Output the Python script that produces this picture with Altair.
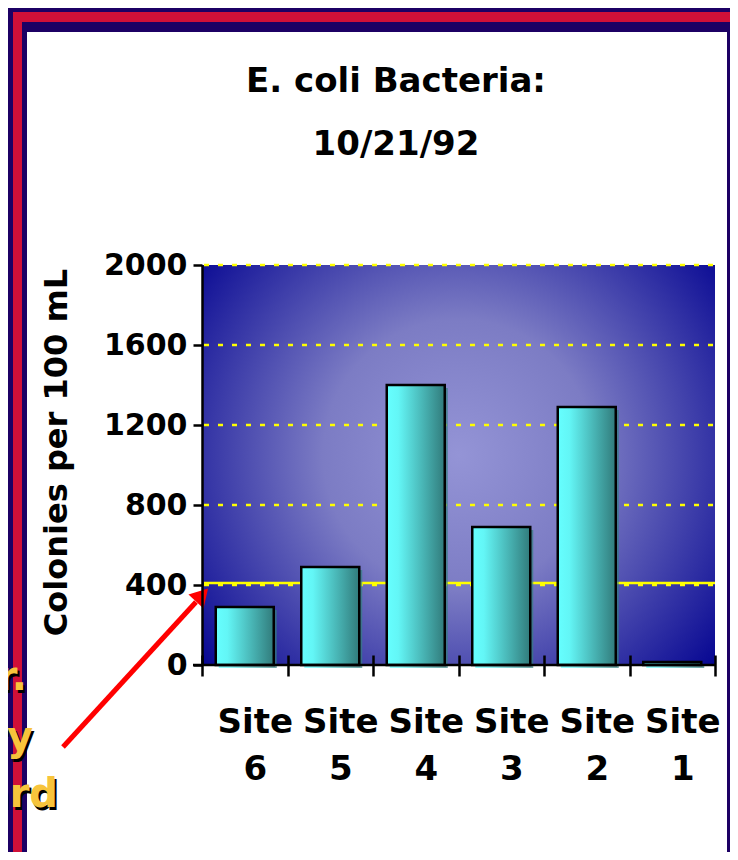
import altair as alt
import pandas as pd

# ---------------- data ----------------
sites = ["Site 6", "Site 5", "Site 4", "Site 3", "Site 2", "Site 1"]
colonies = [290, 490, 1400, 690, 1290, 15]
y_ticks = [0, 400, 800, 1200, 1600, 2000]
grid_values = [400, 800, 1200, 1600, 2000]
standard = [410]
title_lines = ["E. coli Bacteria:", "10/21/92"]
y_title = "Colonies per 100 mL"
note_lines = ["Contact Recr.", "Primary", "Standard"]

FONT = "DejaVu Sans"
W, H = 513, 400
NAVY = "#1c0064"
RED = "#d01038"

bars_df = pd.DataFrame({"site": sites, "value": colonies})
grid_df = pd.DataFrame({"value": grid_values})
std_df = pd.DataFrame({"value": standard})
one = pd.DataFrame({"k": [0]})

bar_fill = {
    "gradient": "linear", "x1": 0, "y1": 0, "x2": 1, "y2": 0,
    "stops": [
        {"offset": 0, "color": "#66ffff"},
        {"offset": 0.2, "color": "#63f6f6"},
        {"offset": 1, "color": "#317b7b"},
    ],
}
bg_fill = {
    "gradient": "radial", "x1": 0.5, "y1": 0.48, "r1": 0,
    "x2": 0.5, "y2": 0.48, "r2": 0.66,
    "stops": [
        {"offset": 0, "color": "#9494d6"},
        {"offset": 0.4, "color": "#7c7cc4"},
        {"offset": 1, "color": "#020290"},
    ],
}

y_enc = alt.Y(
    "value:Q",
    scale=alt.Scale(domain=[0, 2000], nice=False, zero=True),
    axis=alt.Axis(
        values=y_ticks, format="d", grid=False,
        domain=True, domainColor="black", domainWidth=2.5,
        ticks=True, tickColor="black", tickWidth=2.5, tickSize=9,
        labelFont=FONT, labelFontSize=30, labelFontWeight="bold",
        labelColor="black", labelPadding=6, labelFlush=False, labelOverlap=False,
        title=y_title, titleFont=FONT, titleFontSize=32, titleFontWeight="bold",
        titleColor="black", titleAngle=270, titleX=-136, titleY=187,
        titleAlign="center", titleBaseline="alphabetic", zindex=2,
    ),
)

x_enc = alt.X(
    "site:N", sort=sites,
    scale=alt.Scale(paddingInner=0, paddingOuter=0),
    axis=alt.Axis(
        title=None, domain=False, ticks=True, tickBand="extent",
        tickSize=21, tickWidth=2.5, tickColor="black", offset=-10,
        labelExpr="split(datum.label, ' ')", labelAngle=0,
        labelFont=FONT, labelFontSize=34, labelFontWeight="bold",
        labelColor="black", labelPadding=29, labelLineHeight=47,
        labelOffset=10, labelBaseline="top", zindex=2,
    ),
)


def box(x1, x2, y1, y2, fill):
    return alt.Chart(one).mark_rect(fill=fill, strokeWidth=0).encode(
        x=alt.value(x1), x2=alt.value(x2), y=alt.value(y1), y2=alt.value(y2)
    )


# slide frame
red_frame = box(-189, 560, -253, 620, RED)
navy_frame = box(-180, 560, -243, 620, NAVY)
white_panel = box(-175, 525, -233, 620, "white")
plot_bg = box(0, W, 0, H, bg_fill)

grid = alt.Chart(grid_df).mark_rule(
    color="#ffff00", strokeWidth=2.5, strokeDash=[5, 9]
).encode(y=y_enc, x=alt.value(2), x2=alt.value(W))

std_line = alt.Chart(std_df).mark_rule(color="#ffff00", strokeWidth=2.5).encode(
    y=y_enc, x=alt.value(2), x2=alt.value(W)
)

BAR_W = 58
shadow = alt.Chart(bars_df).mark_bar(
    fill=bar_fill, opacity=0.7, strokeWidth=0, xOffset=3, yOffset=3, width=BAR_W
).encode(x=x_enc, y=y_enc)

bars = alt.Chart(bars_df).mark_bar(
    fill=bar_fill, stroke="black", strokeWidth=2.5, width=BAR_W
).encode(x=x_enc, y=y_enc)

x_line = alt.Chart(one).mark_rule(color="black", strokeWidth=2.5).encode(
    x=alt.value(-9), x2=alt.value(W + 1), y=alt.value(H)
)

# annotation on the left edge (mostly cut off)
note_pos = [(-175, 425), (-169, 485), (-144, 542)]
notes = []
for line, (nx, ny) in zip(note_lines, note_pos):
    ndf = pd.DataFrame({"t": [line]})
    notes.append(
        alt.Chart(ndf).mark_text(
            font=FONT, fontSize=40, fontWeight="bold", align="right",
            baseline="alphabetic", color="black"
        ).encode(text="t:N", x=alt.value(nx + 2), y=alt.value(ny + 3))
    )
    notes.append(
        alt.Chart(ndf).mark_text(
            font=FONT, fontSize=40, fontWeight="bold", align="right",
            baseline="alphabetic", color="#f7c43c"
        ).encode(text="t:N", x=alt.value(nx), y=alt.value(ny))
    )

arrow_line = alt.Chart(one).mark_rule(color="#ff0000", strokeWidth=5).encode(
    x=alt.value(-139), y=alt.value(482), x2=alt.value(-6), y2=alt.value(337)
)
arrow_head = alt.Chart(one).mark_point(
    shape="triangle-up", size=420, filled=True, color="#ff0000",
    opacity=1, angle=42.6, strokeWidth=0
).encode(x=alt.value(0), y=alt.value(330))

titles = []
for line, ty in zip(title_lines, [-173, -110]):
    titles.append(
        alt.Chart(pd.DataFrame({"t": [line]})).mark_text(
            font=FONT, fontSize=34, fontWeight="bold", align="center",
            baseline="alphabetic", color="black"
        ).encode(text="t:N", x=alt.value(194), y=alt.value(ty))
    )

chart = alt.layer(
    red_frame, navy_frame, white_panel, plot_bg, grid, std_line,
    shadow, bars, x_line, *notes, arrow_line, arrow_head, *titles
).properties(
    width=W, height=H,
    autosize=alt.AutoSizeParams(type="none"),
    padding={"left": 194, "top": 257, "right": 15, "bottom": 187},
    background=NAVY,
).configure_view(strokeWidth=0, stroke="transparent")

chart.save("out.html", embed_options={"renderer": "svg", "actions": False})
